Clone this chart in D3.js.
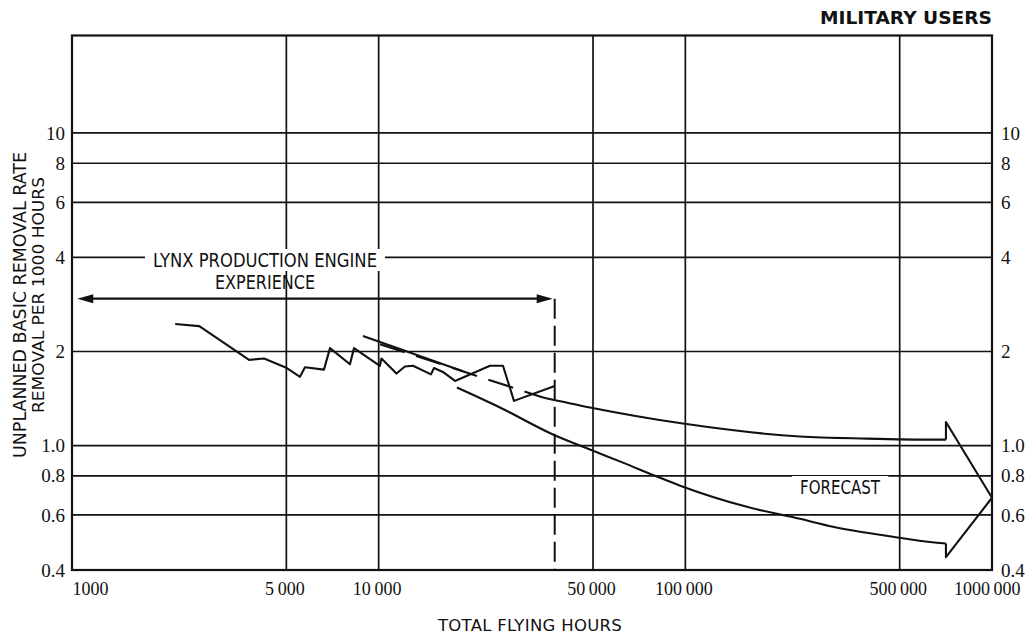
<!DOCTYPE html>
<html>
<head>
<meta charset="utf-8">
<script src="https://cdn.jsdelivr.net/npm/d3@7"></script>
<style>
  body { margin: 0; background: #fff; }
  .num { font-family: "Liberation Serif", "DejaVu Serif", serif; fill: #111; }
  .lbl { font-family: "DejaVu Sans", "Liberation Sans", sans-serif; fill: #111; }
</style>
</head>
<body>
<div id="chart"></div>
<script>
// axis ticks
var xTicks = [1000, 5000, 10000, 50000, 100000, 500000, 1000000];
var xTickLabels = ["1000", "5\u2009000", "10\u2009000", "50\u2009000", "100\u2009000", "500\u2009000", "1000\u2009000"];
var yTicks = [0.4, 0.6, 0.8, 1.0, 2, 4, 6, 8, 10];
var yTickLabels = ["0.4", "0.6", "0.8", "1.0", "2", "4", "6", "8", "10"];
var xGrid = [5000, 10000, 50000, 100000, 500000];
var yGrid = [0.6, 0.8, 1.0, 2, 4, 6, 8, 10];

// recorded removal rate (jagged)
var recordedHours = [2170, 2600, 3780, 4230, 5020, 5540, 5750, 6630, 6940, 8060, 8310, 10090, 10210, 11430, 12180, 12940, 14810, 15150, 16200, 17740, 23070, 25430, 27620, 37500];
var recordedRate = [2.45, 2.41, 1.88, 1.90, 1.77, 1.66, 1.78, 1.75, 2.05, 1.82, 2.05, 1.80, 1.90, 1.70, 1.79, 1.80, 1.69, 1.77, 1.72, 1.61, 1.80, 1.80, 1.39, 1.55];

// straight trend line over the early data
var trendHours = [8890, 18830];
var trendRate = [2.24, 1.73];

// dashed fit leading into the upper forecast
var fitHours = [10100, 34340];
var fitRate = [2.11, 1.425];

// forecast curves
var upperHours = [34340, 48870, 98200, 236500, 390900, 661300, 707600];
var upperRate = [1.425, 1.324, 1.176, 1.069, 1.053, 1.045, 1.045];
var lowerHours = [18000, 24860, 37010, 48870, 62600, 82660, 98200, 158800, 236500, 302900, 475300, 661300, 707600];
var lowerRate = [1.534, 1.324, 1.085, 0.971, 0.882, 0.789, 0.739, 0.637, 0.583, 0.550, 0.511, 0.489, 0.486];

// big forecast arrow head
var arrowHours = [707600, 707600, 1000000, 707600, 707600];
var arrowRate = [1.045, 1.19, 0.681, 0.44, 0.486];

// production engine experience span
var experienceHours = [1040, 37500];
var experienceRate = 2.95;

var width = 1029;
var height = 634;

var svg = d3.select('#chart')
    .append('svg')
    .attr('width', width)
    .attr('height', height);

var x = d3.scaleLog().domain([1000, 1000000]).range([72, 992]);
var y = d3.scaleLog().domain([0.4, 20.5]).range([570, 35.5]);

function pairs(xs, ys) {
    return xs.map(function (d, i) { return [d, ys[i]]; });
}

var ink = "#111";

// grid
svg.append('g').selectAll('line')
    .data(xGrid)
    .enter()
    .append('line')
    .attr('x1', d => x(d)).attr('x2', d => x(d))
    .attr('y1', y(20.5)).attr('y2', y(0.4))
    .attr('stroke', ink).attr('stroke-width', 1.7);

svg.append('g').selectAll('line')
    .data(yGrid)
    .enter()
    .append('line')
    .attr('x1', x(1000)).attr('x2', x(1000000))
    .attr('y1', d => y(d)).attr('y2', d => y(d))
    .attr('stroke', ink).attr('stroke-width', 1.7);

// frame
svg.append('rect')
    .attr('x', x(1000)).attr('y', y(20.5))
    .attr('width', x(1000000) - x(1000))
    .attr('height', y(0.4) - y(20.5))
    .attr('fill', 'none')
    .attr('stroke', ink).attr('stroke-width', 2.2);

// axes labels
var xAxis = d3.axisBottom(x)
    .tickValues(xTicks)
    .tickFormat(function (d, i) { return xTickLabels[i]; })
    .tickSize(0)
    .tickPadding(12);

var gX = svg.append('g')
    .attr('transform', 'translate(0,' + y(0.4) + ')')
    .call(xAxis);
gX.select('.domain').remove();
gX.selectAll('text')
    .attr('class', 'num')
    .style('font-size', '18px')
    .attr('text-anchor', function (d, i) { return i == 0 ? 'start' : (i == xTicks.length - 1 ? 'end' : 'middle'); })
    .attr('dx', function (d, i) { return i == xTicks.length - 1 ? 28 : (i == 0 ? 0 : -2); });

var yAxisL = d3.axisLeft(y)
    .tickValues(yTicks)
    .tickFormat(function (d, i) { return yTickLabels[i]; })
    .tickSize(0)
    .tickPadding(7);
var gYL = svg.append('g')
    .attr('transform', 'translate(' + x(1000) + ',0)')
    .call(yAxisL);
gYL.select('.domain').remove();
gYL.selectAll('text').attr('class', 'num').style('font-size', '19px');

var yAxisR = d3.axisRight(y)
    .tickValues(yTicks)
    .tickFormat(function (d, i) { return yTickLabels[i]; })
    .tickSize(0)
    .tickPadding(9);
var gYR = svg.append('g')
    .attr('transform', 'translate(' + x(1000000) + ',0)')
    .call(yAxisR);
gYR.select('.domain').remove();
gYR.selectAll('text').attr('class', 'num').style('font-size', '19px');

gX.attr('font-family', null).attr('font-size', null);
gYL.attr('font-family', null).attr('font-size', null);
gYR.attr('font-family', null).attr('font-size', null);

// titles
svg.append('text')
    .attr('class', 'lbl')
    .attr('x', 530).attr('y', 631)
    .attr('text-anchor', 'middle')
    .style('font-size', '16.5px')
    .style('letter-spacing', '0.3px')
    .text('TOTAL FLYING HOURS');

svg.append('text')
    .attr('class', 'lbl')
    .attr('transform', 'translate(26,305) rotate(-90)')
    .attr('text-anchor', 'middle')
    .attr('textLength', 306).attr('lengthAdjust', 'spacingAndGlyphs')
    .style('font-size', '18px')
    .text('UNPLANNED BASIC REMOVAL RATE');

svg.append('text')
    .attr('class', 'lbl')
    .attr('transform', 'translate(44,295) rotate(-90)')
    .attr('text-anchor', 'middle')
    .attr('textLength', 236).attr('lengthAdjust', 'spacingAndGlyphs')
    .style('font-size', '16px')
    .text('REMOVAL PER 1000 HOURS');

svg.append('text')
    .attr('class', 'lbl')
    .attr('x', 992).attr('y', 24)
    .attr('text-anchor', 'end')
    .attr('textLength', 172).attr('lengthAdjust', 'spacingAndGlyphs')
    .style('font-size', '17px')
    .style('font-weight', 'bold')
    .text('MILITARY USERS');

// labels sitting on grid lines, with white backing
function gridLabel(lines, cx, ys, size, lens) {
    var g = svg.append('g');
    var bg = g.append('rect').attr('fill', '#fff');
    var t = lines.map(function (s, i) {
        return g.append('text')
            .attr('class', 'lbl')
            .attr('x', cx).attr('y', ys[i])
            .attr('text-anchor', 'middle')
            .attr('textLength', lens[i]).attr('lengthAdjust', 'spacingAndGlyphs')
            .style('font-size', size + 'px')
            .text(s);
    });
    var b = t[0].node().getBBox();
    bg.attr('x', b.x - 8).attr('y', b.y).attr('width', b.width + 16).attr('height', b.height);
}

gridLabel(['LYNX PRODUCTION ENGINE', 'EXPERIENCE'], 265, [267, 289], 19, [224, 100]);
gridLabel(['FORECAST'], 840, [494], 19, [80]);

// data lines
var line = d3.line().x(d => x(d[0])).y(d => y(d[1]));
var smooth = d3.line().x(d => x(d[0])).y(d => y(d[1])).curve(d3.curveMonotoneX);

function drawPath(gen, data, dash) {
    svg.append('path')
        .datum(data)
        .attr('d', gen)
        .attr('fill', 'none')
        .attr('stroke', ink)
        .attr('stroke-width', 2.1)
        .attr('stroke-linejoin', 'round')
        .attr('stroke-dasharray', dash || null);
}

drawPath(line, pairs(recordedHours, recordedRate));
drawPath(line, pairs(trendHours, trendRate));
drawPath(line, pairs(fitHours, fitRate), '26,12');
drawPath(smooth, pairs(upperHours, upperRate));
drawPath(smooth, pairs(lowerHours, lowerRate));
drawPath(line, pairs(arrowHours, arrowRate));

// experience span: double arrow + dashed drop line
var ey = y(experienceRate);
var ex0 = x(experienceHours[0]), ex1 = x(experienceHours[1]);
svg.append('line')
    .attr('x1', ex0 + 8).attr('x2', ex1 - 8)
    .attr('y1', ey).attr('y2', ey)
    .attr('stroke', ink).attr('stroke-width', 2.2);
svg.append('path')
    .attr('d', 'M' + ex0 + ',' + ey + 'L' + (ex0 + 16) + ',' + (ey - 4.5) + 'L' + (ex0 + 16) + ',' + (ey + 4.5) + 'Z')
    .attr('fill', ink);
svg.append('path')
    .attr('d', 'M' + (ex1 - 2) + ',' + ey + 'L' + (ex1 - 18) + ',' + (ey - 4.5) + 'L' + (ex1 - 18) + ',' + (ey + 4.5) + 'Z')
    .attr('fill', ink);
svg.append('line')
    .attr('x1', ex1).attr('x2', ex1)
    .attr('y1', ey).attr('y2', y(0.4))
    .attr('stroke', ink).attr('stroke-width', 2)
    .attr('stroke-dasharray', '20,7');
</script>
</body>
</html>
